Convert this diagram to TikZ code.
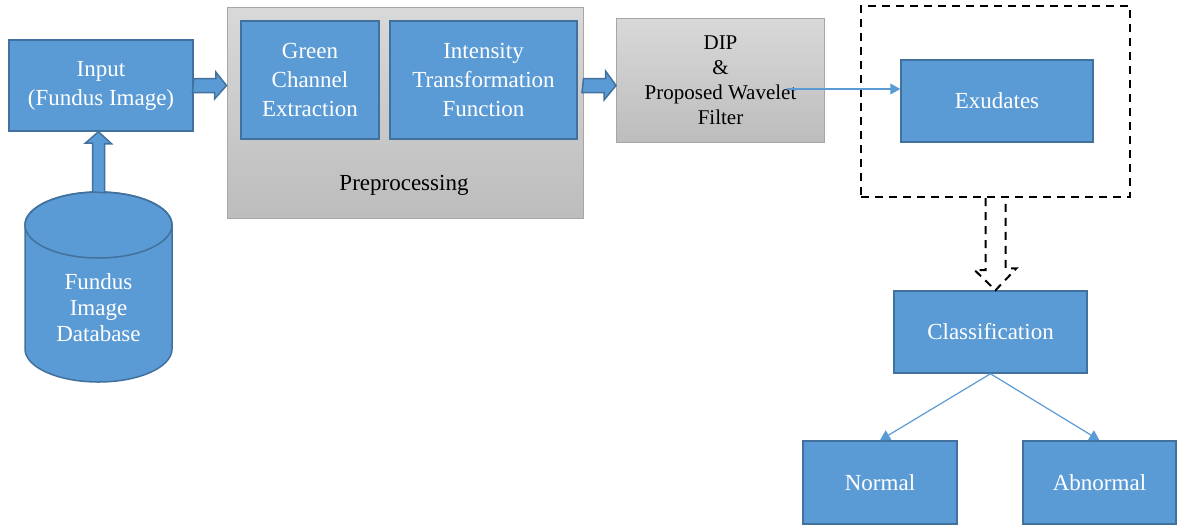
\documentclass[tikz,border=0pt]{standalone}
\usepackage{fontspec}
\setmainfont{Liberation Serif}
\usetikzlibrary{shapes}
\usetikzlibrary{arrows.meta}

\definecolor{boxblue}{HTML}{5B9BD5}
\definecolor{boxline}{HTML}{41719C}
\definecolor{grayline}{HTML}{A6A6A6}

\tikzset{
 bluebox/.style={draw=boxline, line width=0.75pt, fill=boxblue, text=white, align=center, inner sep=0pt},
 graybox/.style={draw=grayline, line width=0.5pt, top color=black!15, bottom color=black!26, align=center, inner sep=0pt},
 fatarrow/.style={draw=boxline, line width=0.75pt, fill=boxblue, line join=miter},
 dasharrow/.style={draw=black, line width=1pt, dash pattern=on 4pt off 3pt},
 thinarrow/.style={draw=boxblue, line width=0.6pt, -{Triangle[length=5pt,width=5.5pt]}}
}

\begin{document}
\begin{tikzpicture}[x=0.5pt, y=-0.5pt, font=\fontsize{11.5}{14.5}\selectfont]

 \useasboundingbox (0,0) rectangle (1177,526);

 \node[graybox, minimum width=178pt, minimum height=105.5pt] (prep) at (405,112.5) {};
 \node (preptext) at (404,185) {Preprocessing};

 \node[bluebox, minimum width=92pt, minimum height=45.5pt] (input) at (101,85.5) {Input\\(Fundus Image)};
 \node[bluebox, minimum width=69pt, minimum height=59pt] (green) at (310,80) {Green\\Channel\\Extraction};
 \node[bluebox, minimum width=93.5pt, minimum height=59pt] (intens) at (483.5,80) {Intensity\\Transformation\\Function};
 \node[graybox, minimum width=104pt, minimum height=62pt, font=\fontsize{10.5}{12.5}\selectfont] (dip) at (720.5,80) {DIP\\\&\\Proposed Wavelet\\Filter};

 \node[draw, line width=1pt, dash pattern=on 4pt off 3pt, minimum width=134.5pt, minimum height=95.5pt] (dashbox) at (995.5,101.5) {};
 \node[bluebox, minimum width=96pt, minimum height=41pt] (exud) at (997,101) {Exudates};

 \node[bluebox, minimum width=96.5pt, minimum height=41pt] (classif) at (990.5,332) {Classification};
 \node[bluebox, minimum width=77pt, minimum height=41.5pt] (normal) at (880,482.5) {Normal};
 \node[bluebox, minimum width=76.5pt, minimum height=41.5pt] (abnormal) at (1099.5,482.5) {Abnormal};

 % database cylinder
 \filldraw[fill=boxblue, draw=boxline, line width=0.75pt] (25,225) -- (25,349)
   arc[start angle=180, end angle=360, x radius=36.75pt, y radius=16.5pt] -- (172,225)
   arc[start angle=0, end angle=180, x radius=36.75pt, y radius=16.5pt] -- cycle;
 \draw[boxline, line width=0.75pt] (98.5,225) ellipse [x radius=36.75pt, y radius=16.5pt];
 \node[text=white, align=center, font=\fontsize{11.5}{13}\selectfont] (db) at (98.5,308) {Fundus\\Image\\Database};
 \path (98.5,192) coordinate (dbtop);

 \filldraw[fatarrow] (dbtop) ++(-6,0) -- ++(0,-49) -- ++(-7,0) -- (dbtop |- input.south)
   -- ++(13,12) -- ++(-7,0) -- ++(0,49) -- cycle;
 \filldraw[fatarrow] (input.east) ++(0,-7) -- ++(22,0) -- ++(0,-6.5) -- (input.east -| prep.west)
   -- ++(-12,13.5) -- ++(0,-6.5) -- ++(-22,0) -- cycle;
 \filldraw[fatarrow] (prep.east |- input.east) ++(0,-7) -- ++(22,0) -- ++(0,-7.5) -- (input.east -| dip.west)
   -- ++(-12,14.5) -- ++(0,-7.5) -- ++(-22,0) -- cycle;

 \path (787,89) coordinate (dipout);
 \draw[thinarrow] (dipout) -- (dipout -| exud.west);

 \draw[dasharrow] (dashbox.south) ++(-10,0) -- ++(0,72) -- ++(-11,0) -- (dashbox.south |- classif.north)
   -- ++(21,-22) -- ++(-11,0) -- ++(0,-72);

 \draw[thinarrow] (classif.south) -- (normal.north);
 \draw[thinarrow] (classif.south) -- (abnormal.north);

\end{tikzpicture}
\end{document}
